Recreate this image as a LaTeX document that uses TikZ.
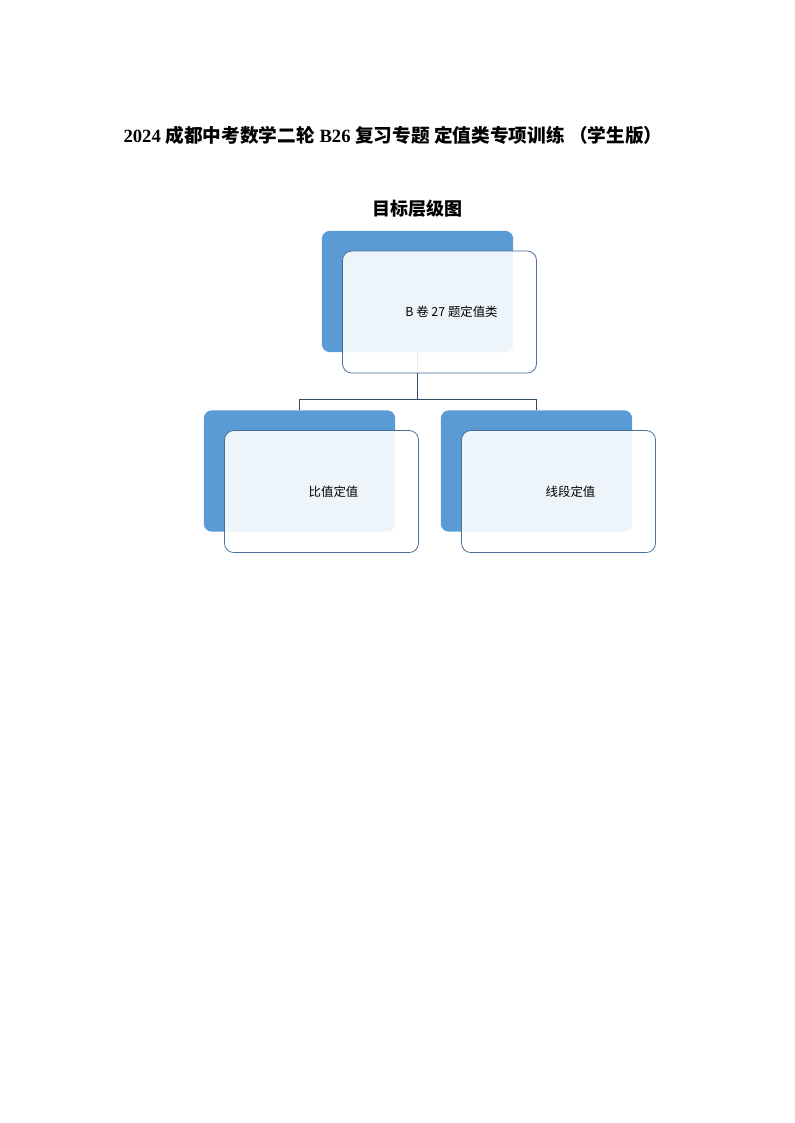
\documentclass[tikz,border=0pt]{standalone}
\usepackage{fontspec}
\setmainfont{Liberation Serif}
\newfontfamily\cjk{Noto Sans CJK SC}
\usetikzlibrary{positioning}
\definecolor{backblue}{HTML}{5B9BD5}
\definecolor{edgeblue}{HTML}{4A6F98}
\definecolor{linkgray}{HTML}{2E4A66}
\tikzset{
	backbox/.style={fill=backblue, rounded corners=6pt, minimum width=143.5pt, minimum height=91pt, inner sep=0pt},
	frontbox/.style={draw=edgeblue, line width=0.6pt, fill=white, fill opacity=0.9, draw opacity=1, rounded corners=7pt, minimum width=145.5pt, minimum height=91.5pt, inner sep=0pt},
	boxtext/.style={font=\cjk\fontsize{9.3}{11}\selectfont},
	link/.style={draw=linkgray, line width=0.6pt}
}

\begin{document}
\begin{tikzpicture}[x=0.75pt,y=-0.75pt]
			\useasboundingbox (0,0) rectangle (794,1123);
			% titles
			\node (title) at (393,135) {\fontsize{14}{16}\selectfont\bfseries 2024 {\cjk 成都中考数学二轮} B26 {\cjk 复习专题 定值类专项训练 （学生版）}};
			\node (chart) at (417,209) {\cjk\fontsize{13.5}{15}\selectfont\bfseries 目标层级图};
			% back boxes
			\node[backbox] (tb) at (417.5,291.5) {};
			\node[backbox] (lb) at (299.5,471) {};
			\node[backbox] (rb) at (536.5,471) {};
			% connectors
			\coordinate (bar) at (0,399);
			\draw[link] (tb.south) -- (tb.south |- bar) -| (lb.north);
			\draw[link] (tb.south |- bar) -| (rb.north);
			% front boxes
			\node[frontbox] (tf) at (tb.center) [xshift=16.5pt, yshift=-15.4pt] {};
			\node[frontbox] (lf) at (lb.center) [xshift=16.5pt, yshift=-15.4pt] {};
			\node[frontbox] (rf) at (rb.center) [xshift=16.5pt, yshift=-15.4pt] {};
			\node[boxtext] (tt) at (tf.center) [xshift=9pt] {B 卷 27 题定值类};
			\node[boxtext] (lt) at (lf.center) [xshift=9pt] {比值定值};
			\node[boxtext] (rt) at (rf.center) [xshift=9pt] {线段定值};
		\end{tikzpicture}
\end{document}
